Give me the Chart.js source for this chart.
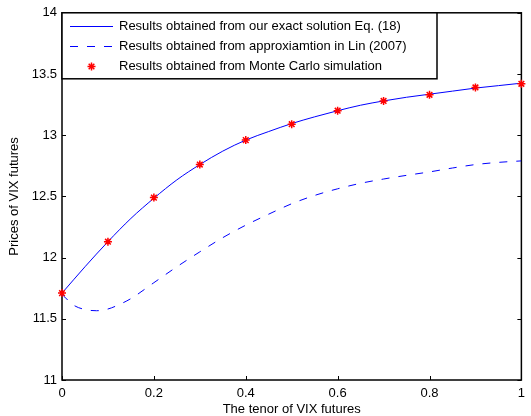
<!DOCTYPE html>
<html>
<head>
<meta charset="utf-8">
<title>Prices of VIX futures</title>
<script src="https://cdn.jsdelivr.net/npm/chart.js@4.4.0/dist/chart.umd.min.js"></script>
<style>
  html, body { margin: 0; padding: 0; background: #fff; }
  #wrap { width: 531px; height: 416px; }
</style>
</head>
<body>
<div id="wrap"><canvas id="vixChart" width="531" height="416"></canvas></div>
<script>
// exact solution, Eq. (18)
const exactTenor = [0, 0.05, 0.1, 0.15, 0.2, 0.25, 0.3, 0.35, 0.4, 0.45, 0.5,
                    0.55, 0.6, 0.65, 0.7, 0.75, 0.8, 0.85, 0.9, 0.95, 1];
const exactPrices = [11.71, 11.925, 12.13, 12.32, 12.485, 12.635, 12.76, 12.87, 12.96, 13.03, 13.095,
                     13.15, 13.2, 13.245, 13.28, 13.31, 13.335, 13.36, 13.385, 13.405, 13.425];

// approximation of Lin (2007)
const linTenor = [0, 0.025, 0.05, 0.075, 0.1, 0.125, 0.15, 0.2, 0.25, 0.3, 0.35, 0.4,
                  0.45, 0.5, 0.55, 0.6, 0.65, 0.7, 0.75, 0.8, 0.85, 0.9, 0.95, 1];
const linPrices = [11.70, 11.612, 11.576, 11.566, 11.58, 11.617, 11.665, 11.795, 11.925, 12.047, 12.163, 12.265,
                   12.355, 12.44, 12.508, 12.562, 12.607, 12.642, 12.672, 12.70, 12.732, 12.76, 12.778, 12.79];

// Monte Carlo simulation
const mcTenor = [0, 0.1, 0.2, 0.3, 0.4, 0.5, 0.6, 0.7, 0.8, 0.9, 1];
const mcPrices = [11.71, 12.13, 12.49, 12.76, 12.96, 13.09, 13.2, 13.28, 13.33, 13.39, 13.42];

const seriesNames = [
  'Results obtained from our exact solution Eq. (18)',
  'Results obtained from approxiamtion in Lin (2007)',
  'Results obtained from Monte Carlo simulation'
];

const xTicks = [0, 0.2, 0.4, 0.6, 0.8, 1];
const xTickLabels = ['0', '0.2', '0.4', '0.6', '0.8', '1'];
const yTicks = [11, 11.5, 12, 12.5, 13, 13.5, 14];
const yTickLabels = ['11', '11.5', '12', '12.5', '13', '13.5', '14'];

const toPoints = (xs, ys) => xs.map((x, i) => ({ x: x, y: ys[i] }));

Chart.defaults.font.family = 'Arial, "Liberation Sans", Helvetica, sans-serif';
Chart.defaults.font.size = 13;
Chart.defaults.color = '#000';

// matlab-like axes box with inward ticks on all four sides
const axesBox = {
  id: 'axesBox',
  beforeDatasetsDraw(chart) {
    const { ctx, chartArea: a, scales } = chart;
    const tick = 4;
    ctx.save();
    ctx.strokeStyle = '#000';
    ctx.lineWidth = 1;
    ctx.beginPath();
    xTicks.forEach(v => {
      const px = Math.round(scales.x.getPixelForValue(v)) + 0.5;
      ctx.moveTo(px, a.bottom); ctx.lineTo(px, a.bottom - tick);
      ctx.moveTo(px, a.top); ctx.lineTo(px, a.top + tick);
    });
    yTicks.forEach(v => {
      const py = Math.round(scales.y.getPixelForValue(v)) + 0.5;
      ctx.moveTo(a.left, py); ctx.lineTo(a.left + tick, py);
      ctx.moveTo(a.right, py); ctx.lineTo(a.right - tick, py);
    });
    ctx.stroke();
    ctx.lineWidth = 1.5;
    ctx.strokeRect(a.left, a.top, a.right - a.left, a.bottom - a.top);
    ctx.restore();
  }
};

// boxed legend in the upper left corner of the axes
const boxLegend = {
  id: 'boxLegend',
  afterDraw(chart) {
    const { ctx, chartArea: a } = chart;
    const w = 375, h = 66, rowGap = 20.3, firstRow = 13;
    ctx.save();
    ctx.fillStyle = '#fff';
    ctx.fillRect(a.left, a.top, w, h);
    ctx.strokeStyle = '#000';
    ctx.lineWidth = 1.5;
    ctx.strokeRect(a.left, a.top, w, h);
    chart.data.datasets.forEach((ds, i) => {
      const y = Math.round(a.top + firstRow + i * rowGap) + 0.5;
      const x0 = a.left + 8, x1 = a.left + 51;
      if (ds.showLine === false) {
        ctx.strokeStyle = ds.pointBorderColor;
        ctx.fillStyle = ds.pointBackgroundColor;
        ctx.lineWidth = ds.pointBorderWidth;
        Chart.helpers.drawPoint(ctx, { pointStyle: ds.pointStyle, radius: ds.pointRadius, borderWidth: ds.pointBorderWidth, rotation: 0 }, (x0 + x1) / 2, y);
      } else {
        ctx.strokeStyle = ds.borderColor;
        ctx.lineWidth = ds.borderWidth;
        ctx.setLineDash(ds.borderDash || []);
        ctx.beginPath();
        ctx.moveTo(x0, y); ctx.lineTo(x1, y);
        ctx.stroke();
        ctx.setLineDash([]);
      }
      ctx.fillStyle = '#000';
      ctx.font = '13px Arial, "Liberation Sans", Helvetica, sans-serif';
      ctx.textBaseline = 'middle';
      ctx.textAlign = 'left';
      ctx.fillText(ds.label, a.left + 57, y);
    });
    ctx.restore();
  }
};

new Chart(document.getElementById('vixChart'), {
  type: 'line',
  data: {
    datasets: [
      {
        label: seriesNames[0],
        data: toPoints(exactTenor, exactPrices),
        borderColor: '#0000ff',
        borderWidth: 1,
        pointRadius: 0,
        cubicInterpolationMode: 'monotone',
        order: 1
      },
      {
        label: seriesNames[1],
        data: toPoints(linTenor, linPrices),
        borderColor: '#0000ff',
        borderWidth: 1,
        borderDash: [8, 9],
        pointRadius: 0,
        cubicInterpolationMode: 'monotone',
        order: 2
      },
      {
        label: seriesNames[2],
        data: toPoints(mcTenor, mcPrices),
        showLine: false,
        borderColor: '#ff0000',
        pointStyle: 'star',
        pointRadius: 4,
        pointBorderWidth: 1.5,
        pointBorderColor: '#ff0000',
        pointBackgroundColor: '#ff0000',
        clip: false,
        order: 0
      }
    ]
  },
  options: {
    responsive: false,
    animation: false,
    devicePixelRatio: 1,
    layout: { padding: { top: 12, right: 2, left: 8, bottom: 0 } },
    plugins: { legend: { display: false }, tooltip: { enabled: false } },
    scales: {
      x: {
        type: 'linear',
        min: 0,
        max: 1,
        grid: { display: false, drawTicks: false },
        border: { display: false },
        afterBuildTicks: s => { s.ticks = xTicks.map(v => ({ value: v })); },
        afterFit: s => { s.height = 36; },
        ticks: { padding: 6, maxRotation: 0, autoSkip: false, callback: (v, i) => xTickLabels[i] },
        title: { display: true, text: 'The tenor of VIX futures', font: { size: 13, lineHeight: 1 }, padding: 0 }
      },
      y: {
        min: 11,
        max: 14,
        grid: { display: false, drawTicks: false },
        border: { display: false },
        afterBuildTicks: s => { s.ticks = yTicks.map(v => ({ value: v })); },
        afterFit: s => { s.width = 54; },
        ticks: { padding: 5, autoSkip: false, callback: (v, i) => yTickLabels[i] },
        title: { display: true, text: 'Prices of VIX futures', font: { size: 13, lineHeight: 1 }, padding: 0 }
      }
    }
  },
  plugins: [axesBox, boxLegend]
});
</script>
</body>
</html>
